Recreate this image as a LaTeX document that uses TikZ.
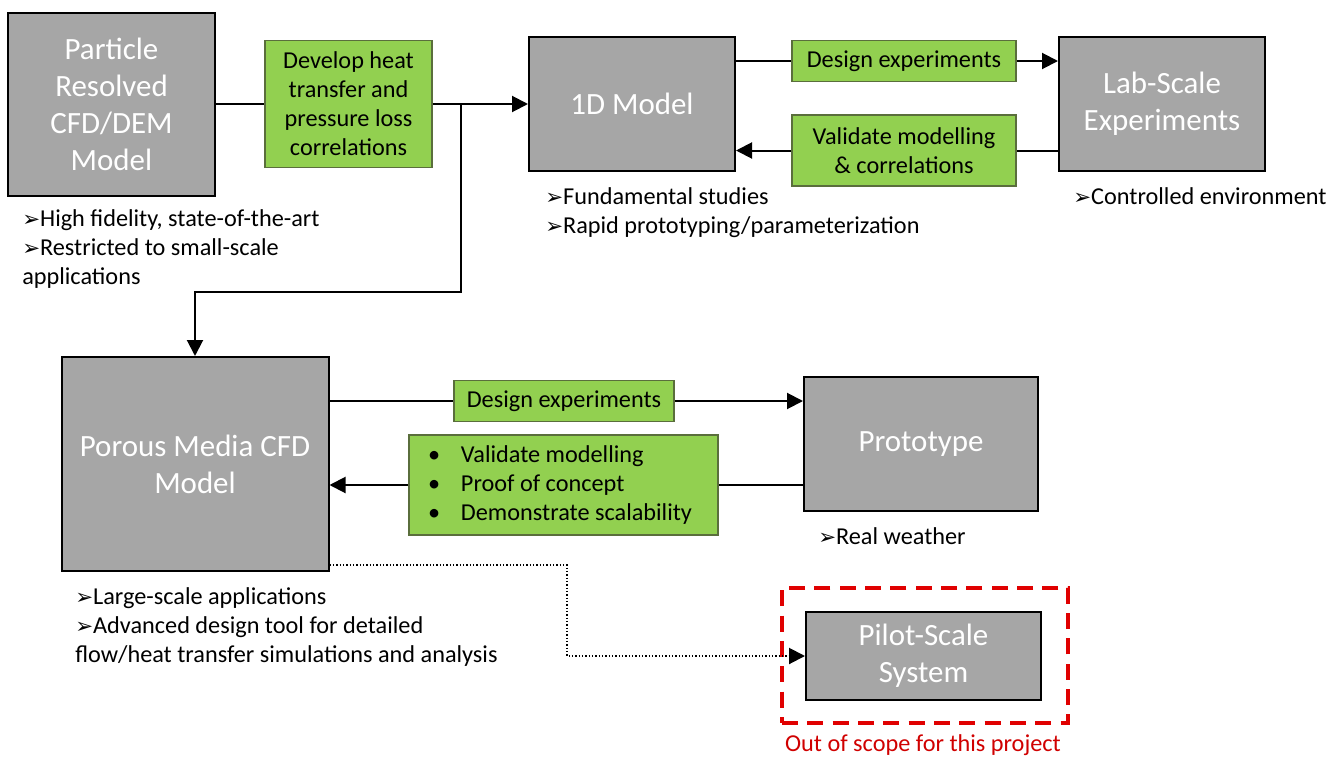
\documentclass[tikz,border=0pt]{standalone}
\usepackage{fontspec}
\setmainfont{Carlito}
\newfontfamily\symfont{DejaVu Sans}
\usetikzlibrary{arrows.meta}

\definecolor{boxgray}{HTML}{A6A6A6}
\definecolor{boxgreen}{HTML}{92D050}
\definecolor{greenedge}{HTML}{5A6E3C}
\definecolor{scopered}{HTML}{E00000}
\definecolor{scopetext}{HTML}{D00000}

\newcommand{\notemark}{{\symfont\fontsize{16}{16}\selectfont ➢}}

\tikzset{
		model/.style={draw=black, line width=1.5pt, fill=boxgray, text=white, align=center, inner sep=0pt, font=\fontsize{23.2}{27.75}\selectfont},
		step box/.style={draw=greenedge, line width=0.8pt, fill=boxgreen, align=center, inner sep=0pt, font=\fontsize{18.2}{21.75}\selectfont},
		note/.style={anchor=base west, align=left, inner sep=0pt, font=\fontsize{18.2}{21.75}\selectfont},
		link/.style={line width=1.5pt},
		arrow/.style={line width=1.5pt, -{Triangle[length=12pt, width=12pt]}},
		dots/.style={line width=1.5pt, dash pattern=on 1.2pt off 1.3pt, -{Triangle[length=12pt, width=12pt]}}
	}

\begin{document}
\begin{tikzpicture}[x=0.75pt, y=-0.75pt]

\useasboundingbox (0,0) rectangle (1343,760);

\node (particle) at (111.5,104) [model, minimum width=155.25pt, minimum height=137.25pt] {Particle\\Resolved\\CFD/DEM\\Model};
\node (develop) at (348.5,104) [step box, minimum width=125.25pt, minimum height=95.25pt] {Develop heat\\transfer and\\pressure loss\\correlations};
\node (onedm) at (632,104) [model, minimum width=154.5pt, minimum height=100.5pt] {1D Model};
\node (dexpa) at (904,61) [step box, minimum width=168pt, minimum height=30.75pt] {Design experiments};
\node (valida) at (904,150.5) [step box, minimum width=168pt, minimum height=53.25pt] {Validate modelling\\\& correlations};
\node (lab) at (1162,104) [model, minimum width=154.5pt, minimum height=100.5pt] {Lab-Scale\\Experiments};

\node (porous) at (195,464) [model, minimum width=200.25pt, minimum height=160.5pt] {Porous Media CFD\\Model};
\node (dexpb) at (564,401) [step box, minimum width=165pt, minimum height=30.75pt] {Design experiments};
\node (validb) at (563.5,485) [step box, minimum width=231.75pt, minimum height=75pt, inner xsep=14.25pt, text width=203.25pt, align=flush left] {\makebox[24.75pt][l]{\textbullet}Validate modelling\\\makebox[24.75pt][l]{\textbullet}Proof of concept\\\makebox[24.75pt][l]{\textbullet}Demonstrate scalability};
\node (proto) at (921,444) [model, minimum width=175.5pt, minimum height=100.5pt] {Prototype};

\node (scope) at (925,655.5) [draw=scopered, line width=2.6pt, dash pattern=on 12pt off 7pt, minimum width=214.5pt, minimum height=101.25pt] {};
\node (pilot) at (923.5,656) [model, minimum width=176.25pt, minimum height=66pt] {Pilot-Scale\\System};
\node (scopelabel) at (923,745) [text=scopetext, font=\fontsize{18.2}{21.75}\selectfont] {Out of scope for this project};

\node (notea) at (22,284) [note] {\notemark High fidelity, state-of-the-art\\\notemark Restricted to small-scale\\applications};
\node (noteb) at (545,233) [note] {\notemark Fundamental studies\\\notemark Rapid prototyping/parameterization};
\node (notec) at (1073,204) [note] {\notemark Controlled environment};
\node (noted) at (75,662) [note] {\notemark Large-scale applications\\\notemark Advanced design tool for detailed\\flow/heat transfer simulations and analysis};
\node (notee) at (818,544) [note] {\notemark Real weather};

\coordinate (split) at (461,104);
\coordinate (turn) at (195,292);
\coordinate (dotstart) at (329.5,565);
\coordinate (drop) at (567,656);

\draw [link] (particle) -- (develop);
\draw [arrow] (develop) -- (onedm);
\draw [arrow] (split) |- (turn) -- (porous);

\draw [link] (onedm.east |- dexpa) -- (dexpa);
\draw [arrow] (dexpa) -- (lab.west |- dexpa);
\draw [link] (lab.west |- valida) -- (valida);
\draw [arrow] (valida) -- (onedm.east |- valida);

\draw [link] (porous.east |- dexpb) -- (dexpb);
\draw [arrow] (dexpb) -- (proto.west |- dexpb);
\draw [link] (proto.west |- validb) -- (validb);
\draw [arrow] (validb) -- (porous.east |- validb);

\draw [dots] (dotstart) -| (drop) -- (pilot);

\end{tikzpicture}
\end{document}
